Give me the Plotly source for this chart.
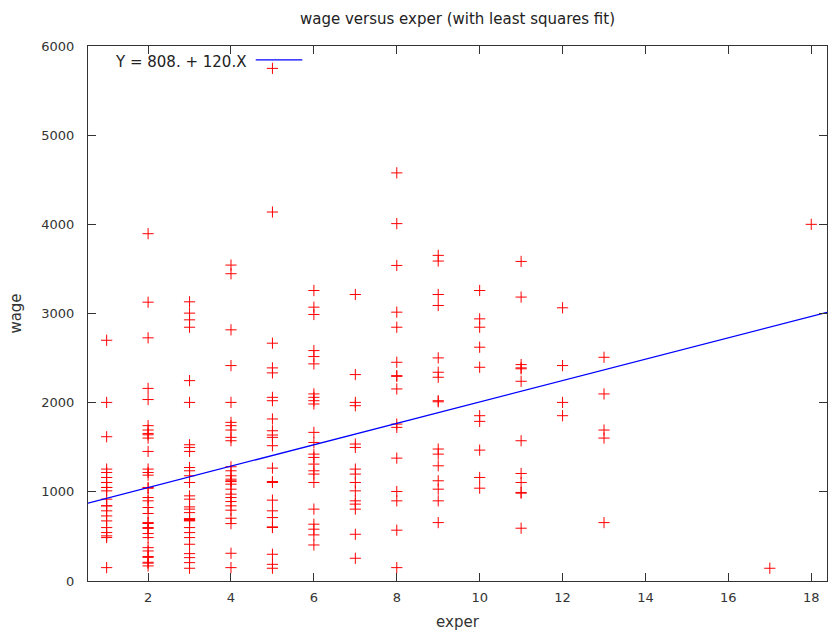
import plotly.graph_objects as go

# ---- data ----
wage_exper_1 = [2700, 2003, 1618, 1255, 1217, 1161, 1105, 1049, 1049, 1011, 918, 843, 843, 787, 730, 674, 599, 543, 506, 487, 150]
wage_exper_2 = [3895, 3127, 2727, 2160, 2035, 1742, 1693, 1655, 1640, 1603, 1453, 1255, 1217, 1187, 1049, 1040, 936, 899, 824, 757,
                655, 645, 599, 590, 532, 487, 374, 337, 275, 265, 210, 200, 169]
wage_exper_3 = [3131, 3004, 2929, 2846, 2247, 2003, 1528, 1498, 1453, 1273, 1236, 1180, 1105, 955, 918, 831, 806, 767, 700, 690,
                680, 674, 599, 543, 487, 412, 307, 262, 206, 143]
wage_exper_4 = [3543, 3446, 2817, 2416, 2003, 1779, 1742, 1693, 1611, 1573, 1281, 1236, 1180, 1142, 1124, 1115, 1086, 1030, 974, 936,
                891, 843, 794, 704, 644, 311, 150]
wage_exper_5 = [5749, 4138, 2667, 2390, 2334, 2060, 2022, 1817, 1685, 1637, 1611, 1517, 1266, 1116, 1105, 907, 787, 711, 607, 600,
                300, 187, 143]
wage_exper_6 = [3258, 3071, 2989, 2584, 2517, 2435, 2098, 2060, 2022, 1985, 1667, 1554, 1423, 1386, 1311, 1236, 1199, 1105, 806, 637,
                581, 517, 404]
wage_exper_7 = [3213, 2315, 2003, 1966, 1536, 1498, 1255, 1199, 1105, 1011, 899, 862, 806, 524, 255]
wage_exper_8 = [4577, 4008, 3539, 3015, 2846, 2453, 2303, 2295, 2154, 1760, 1723, 1378, 1004, 899, 570, 150]
wage_exper_9 = [3652, 3588, 3213, 3090, 2502, 2341, 2285, 2022, 2010, 1480, 1423, 1292, 1124, 1030, 899, 655]
wage_exper_10 = [3258, 2940, 2846, 2622, 2397, 1854, 1790, 1468, 1161, 1041]
wage_exper_11 = [3584, 3184, 2427, 2390, 2380, 2240, 1573, 1206, 1105, 993, 985, 592]
wage_exper_12 = [3064, 2416, 2003, 1854]
wage_exper_13 = [2509, 2098, 1693, 1603, 655]
wage_exper_17 = [143]
wage_exper_18 = [4000]

exper_levels = [1, 2, 3, 4, 5, 6, 7, 8, 9, 10, 11, 12, 13, 17, 18]
wage_groups = [wage_exper_1, wage_exper_2, wage_exper_3, wage_exper_4, wage_exper_5, wage_exper_6, wage_exper_7,
               wage_exper_8, wage_exper_9, wage_exper_10, wage_exper_11, wage_exper_12, wage_exper_13,
               wage_exper_17, wage_exper_18]

fit_intercept = 808.0
fit_slope = 120.0
fit_label = "Y = 808. + 120.X"

x_ticks = [2, 4, 6, 8, 10, 12, 14, 16, 18]
y_ticks = [0, 1000, 2000, 3000, 4000, 5000, 6000]
X_RANGE = [0.55, 18.38]
Y_RANGE = [0, 6000]

# ---- build ----
exper = []
wage = []
for lvl, grp in zip(exper_levels, wage_groups):
    exper.extend([lvl] * len(grp))
    wage.extend(grp)

fit_x = X_RANGE
fit_y = [fit_intercept + fit_slope * v for v in fit_x]

FONT = "DejaVu Sans"
TEXT_SIZE = 15

fig = go.Figure()
fig.add_trace(go.Scatter(
    x=exper, y=wage, mode="markers", name="wage",
    marker=dict(symbol="cross-thin", size=8, color="#ff0000",
                line=dict(color="#ff0000", width=1)),
    showlegend=False, cliponaxis=True,
))
fig.add_trace(go.Scatter(
    x=fit_x, y=fit_y, mode="lines", name=fit_label,
    line=dict(color="#0000ff", width=1.3), showlegend=False,
))

axis_common = dict(
    showgrid=False, zeroline=False, showline=True, linecolor="#333333", linewidth=1,
    mirror="allticks", ticks="inside", ticklen=8, tickcolor="#333333", tickwidth=1,
    tickfont=dict(family=FONT, size=13, color="#333333"),
)

fig.update_layout(
    width=828, height=631,
    margin=dict(l=88, r=1, t=46, b=50),
    paper_bgcolor="white", plot_bgcolor="white",
    font=dict(family=FONT, size=13, color="#333333"),
    title=dict(text="wage versus exper (with least squares fit)", x=0.5, xref="paper",
               y=1 - 19 / 631, yanchor="middle", font=dict(family=FONT, size=TEXT_SIZE, color="#222222")),
    xaxis=dict(range=X_RANGE, tickvals=x_ticks, ticklabelstandoff=4,
               title=dict(text="exper", standoff=14, font=dict(family=FONT, size=TEXT_SIZE)), **axis_common),
    yaxis=dict(range=Y_RANGE, tickvals=y_ticks, ticklabelstandoff=10,
               title=dict(text="wage", standoff=16, font=dict(family=FONT, size=TEXT_SIZE)), **axis_common),
    showlegend=False,
)

# key (text to the left of the line sample, gnuplot style)
fig.add_annotation(text=fit_label, xref="paper", yref="paper", x=0.216, y=0.970,
                   xanchor="right", yanchor="middle", showarrow=False,
                   font=dict(family=FONT, size=TEXT_SIZE, color="#222222"))
fig.add_shape(type="line", xref="paper", yref="paper", x0=0.227, x1=0.290, y0=0.974, y1=0.974,
              line=dict(color="#0000ff", width=1.3))

fig.write_html("out.html")
